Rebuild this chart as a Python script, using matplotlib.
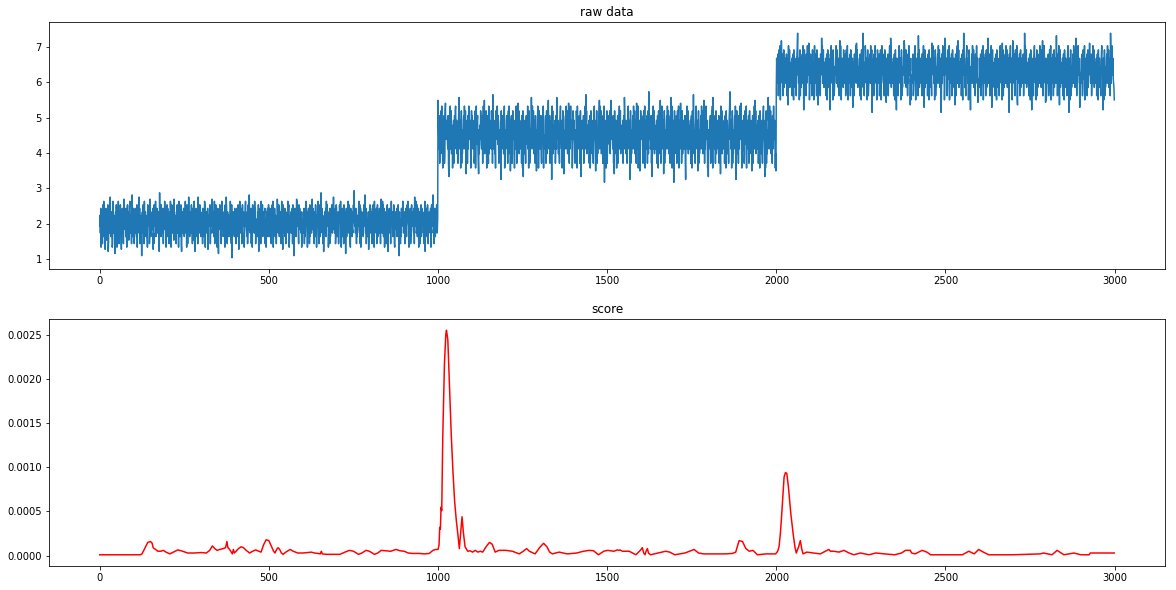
import numpy as np
import matplotlib
matplotlib.use("Agg")
import matplotlib.pyplot as plt

# ---- raw data: three regimes of ~1000 samples, each sample read as a level letter a..z ----
seg1_letters = """
mpkrgnqlhs ojtmkqfnrl iqnmsehpkr lvmjnqoght rknpmdlqjs ogmrktnhqp lsnjfqmrko hpumnlqjrk gosmqnilrt kpnmhqwjlr
nqhlmrkopj sgnqmlvkrh ojpmcnqlsk rhtmnqkjop lgsnrmqhku pjnomqlrfk hsqnmtjlor pkmnqhexlr ojsmnkqrhp lmtqnkgors
jrlnohmqkt pgnslkrmqi uljnpmhqos kmrgtnljpq shemoqknrl jpmtnkqgso hrlvmnjpqk lsomhrinqt pkemrlnjqo hvpnkmsqlj
oknqhrmjpl tsgnmlqkor fjpnmqshlk roumnkqjpt hlmsnkqgor jdpmnslqkh rtnomjkqlp gsmnvrkhqo lpjmnqtrkh sbnmoqlkjr
qlmhnrokjs pfnmtqlkro hjsnmqpgkl rtmonjqhks lpwnmkqrho jgsmnqlktp rhomnkjqls epnmrqhtko lsjnmqkprh omgnqlrjks
ljnrmkqhop sntgmqkrlj pohmnuqlks rjnmkqhpto lfsnmqkrjp hmonqltkrs gjnpmqklor hsnmcqkrlp joutnmqkhs lrpmnkqgjo
nkqmrhojls tpnmgqlrko hsjnmqkpul rmonhqklsj pgnmrtqkho lsjnxmqrkp hoemnqklrj tpsnmqgkol hrjnmqsokp lvnmqkrhjs
rmjnkqhlos pntmgqlrjk ohsmnqkdlr jpnmtqkslo hgrnmqjlkp soynmqkrlh ojpmnqtlks hrgmnqlkoj psnmwqkrhl ojnmqfklrs
klmqnhrjso pgtnmqlkrh osjnmqprkl hmunqktlsj rognmqkhlp sjenmqrlko hptnmqkjls rhgmnqlorj kpsnmcqklh ojrnmqtsko
mqhnkrljps otnmgqklrh jpsnmqolkr hvnmqtklsj porgnmqhlk sjrnmqpkoh ltenmqrkjs ohpnmqlkrg jsnmqwklho rpjnmqsklo
"""
seg2_letters = """
vqnkrhmpjs otlmgqnkrh jsumnqpolk rhdnmqtkls jpogmnqhlr kstnmqjolh prwmnkqgls hojnmqrktp lsjenmqhrk otpnmqlgjs
lrnkqmohjp sgmtnlqrkh eojnpmsqlk rnhmtkqvjo lpsmgnqrkh tjonmlqksp rhxnmkqojl gspnmtqlrk hjomnqcslk prnmjqtgho
kmqrnlhosj tpnmfkqrlh jsomnqgplk rtnhmqkuls jponmkqhrl gsdnmqjokh prlmntkqgs ohjnmqwrkt lpsjmnqhrk ofnmqtlgjs
nqkmrjhlop stgnmklqrh osjnmqvpkl rhmnkqctls jpoknmqhlr kwsnmqjolh prtmnkqgls hoejnmqrkt plsjnmuqhr kotnmqlgjs
rmqnkhjols pgtnmlqkrh osjdnmqpkl rhmnqtkxls jpknomqhlr gksnmqjolh prtmnkfqls hojnmqrvkt plsjnmqhrk otbnmqlgjs
hkqnmrlosj pvtnmqlkrh oesjnmqpgk lrhmnqtkls jpoknmqhlr kwsnmqjolh prtmnkqcls hojnmqrktp lsjnmqhurk otgnmqlfjs
pnrmqkhjsl otgnmqlkrh osjynmqpkl rhmdnqtkls jpoknmqhlr kgsnmqjvlh prtmnkqels hojnmqrktp lsjnmqhrkw otgnmqlbjs
jqmnkrhlso ptgnmqlukr hosjnmqpkl rhcmnqtkls jpoknmqhlr kgsnmxqjol hprtmnkqfl shojnmqrkt plsjnmvqhr kotnmqlgjd
omnqkrhjls ptgwnmqlkr hosjnmqpkl rhmnqetkls jpoknmqhlr kgsnmqjolh prtymnkqgl shojnmqrkt pclsjnmqhr kotnmqulgj
kqmnrhjslo ptgnmqlkrh osjnmqpkfl rhmnqtkvls jpoknmqhlr kgsnmqjolh prtmnkdqgl shojnmwqrk tplsjnmqhr kotnmqlgjf
"""
seg3_letters = """
jqnmkrhlso ptgnmvqlkr hosjnmqpkl rhmnqetkls jpoknmqhlr kgsnmqjolh prtymnkqgl shojnmqrkt pclsjnmqhr kotnmqulgj
mrknqhlsjo pgntmqkrlh sjoenmqplk hrmnwqtkls ojpnkmqhlr gksnmqjoch rptmnkqgsl ohjnmqrtkp slnjmqhrvk tognmqlkjs
nkqmrhjslo tpgnmqlkrh sojnmqdpkl hrmnqtkuls pjoknmqhrl kgsnmqyjol hpmtrnkqgl sohjnmqrkt lpsbjnmqhr oktnmqlgjs
qmnkrhljso gptnmqlkrh osjnmfqpkl rhmnqtklws jpoknmqhlr kgsnmcqjol hprtmnkqgl shojnmqrvt kplsjnmqhr kotnmqelgj
mkqnrhjlos tpgnmqlkrh xosjnmqpkl rhmnqtkdls jpoknmqhlr kgsnmqjolh uprtmnkqgl shojnmqrkt plsjnmqbhr kotnmqlgjw
rnmqkhjslo ptgnmqlkrh osjnmqpkel rhmnqtkvls jpoknmqhlr kgsnymqjol hprtmnkqgl shojcnmqrk tplsjnmqhr kotnmqfglj
kmqnrhjlso ptgnmqlkrh osjnmqwpkl rhmnqtkdls jpoknmqhlr kgsnmqjolh prtmnkqgul shojnmqrkt plsjnmqhbr kotnmqlgjv
nqmkrhjslo ptgenmqlkr hosjnmqpkl rhmnyqtkls jpoknmqhlr kgsnmcqjol hprtmnkqgl shojnmqrkt plsjnmqvhr kotnmqflgj
qkmnrhjlso ptgnmqlkrh osjnmqpkxl rhmnqtkels jpoknmqhlr kgsnmqjolh prtmnbkqgl shojnmqrkt plsjnmwqhr kotnmqldgj
mnqkrhjslo ptgnmqlkrh osjnmquqpk lrhmnqtkls jpoknmqhlr kgsnmqjolh prtmnkcqgl shojnmqrkt plsjnmqhyr kotnmqlkjg
"""
seg_starts = [0, 1000, 2000]
seg_levels = [1.98, 4.45, 6.27]
seg_step = [0.10, 0.135, 0.118]   # value change per letter inside the core (g..t)
letter_scale_core = 6.5           # letters beyond g..t are spaced more closely
letter_scale_tail = 0.6

# ---- score curve (values in units of 1e-5) ----
score_x = [0, 120, 125, 133, 142, 150, 155, 158, 165, 172, 180, 188, 196, 207, 218, 231, 245, 260, 280, 300,
           315, 325, 333, 340, 347, 355, 365, 372, 376, 379, 384, 389, 392, 395, 398, 403, 410, 418, 425, 433,
           443, 452, 461, 470, 477, 484, 492, 500, 508, 514, 518, 523, 527, 532, 537, 542, 550, 563, 572, 585,
           600, 615, 625, 635, 645, 652, 655, 658, 670, 690, 710, 725, 738, 750, 765, 775, 787, 797, 812, 822,
           832, 845, 860, 876, 888, 900, 912, 925, 945, 960, 974, 985, 993, 1000, 1003, 1005, 1007, 1009, 1011, 1014,
           1019, 1023, 1025, 1029, 1034, 1039, 1044, 1049, 1054, 1059, 1063, 1068, 1071, 1075, 1080, 1088, 1095, 1102, 1110, 1118,
           1125, 1132, 1142, 1152, 1160, 1169, 1180, 1200, 1220, 1240, 1252, 1262, 1270, 1287, 1300, 1312, 1322, 1330, 1338, 1358,
           1382, 1410, 1430, 1447, 1460, 1474, 1490, 1501, 1520, 1530, 1535, 1538, 1545, 1565, 1585, 1598, 1604, 1608, 1612, 1615,
           1619, 1622, 1628, 1650, 1673, 1685, 1700, 1730, 1757, 1770, 1785, 1820, 1850, 1870, 1880, 1890, 1900, 1910, 1920, 1931,
           1944, 1970, 1998, 2004, 2008, 2012, 2016, 2023, 2027, 2031, 2036, 2043, 2050, 2055, 2059, 2066, 2071, 2075, 2079, 2090,
           2110, 2130, 2145, 2155, 2160, 2170, 2185, 2200, 2215, 2229, 2249, 2274, 2294, 2320, 2350, 2370, 2382, 2396, 2400, 2410,
           2431, 2445, 2456, 2500, 2550, 2569, 2585, 2598, 2612, 2628, 2700, 2780, 2790, 2815, 2830, 2850, 2880, 2900, 2925, 2928,
           2960, 2999]
score_y = [1, 1, 2, 8, 15, 16, 14, 9, 7, 5, 5, 6, 4, 2, 4, 6.5, 5, 3, 3, 3.5,
           3, 6, 11, 8, 6, 7, 8, 9, 16, 9, 7, 4, 2, 7, 3, 5, 8, 10, 9, 6,
           3, 5, 6.5, 5, 4, 12, 18, 17, 10, 5, 3, 7, 9, 7, 3, 1.5, 4, 7, 5, 3,
           3, 3.5, 4, 3, 2.5, 2, 5, 2, 1.5, 1.5, 1.5, 4, 6, 5, 1.5, 3, 6, 5, 1.5, 3,
           6, 5.5, 5, 7, 5.5, 5, 3, 2.5, 2.5, 2, 2.5, 6, 7, 7, 12, 32, 30, 55, 51, 134,
           217, 250, 255, 244, 191, 138, 96, 62, 40, 23, 8, 30, 44, 26, 10, 5, 5.5, 4, 6, 4,
           5, 4, 10, 15, 13, 4, 6, 6, 5, 2, 5, 8, 5, 2, 9, 14, 10, 4, 2, 4,
           2, 3, 5, 6, 5.5, 1, 5, 6, 5, 6.5, 6, 6.5, 5, 5, 1, 6, 9, 3, 1, 5,
           8, 3, 1, 3, 5, 4, 1, 3, 7, 3, 2, 2, 2, 2.5, 4, 17, 16, 8, 5, 6,
           1, 2, 2, 5, 10, 25, 47, 89, 94, 93, 77, 47, 24, 10, 3, 10, 17, 8, 2, 4,
           3, 2, 5, 7, 5, 5, 4, 6, 3, 1, 3, 1, 3, 2, 1, 3, 6, 6, 3, 2,
           6, 4, 1, 1, 1, 5, 2, 7, 4, 1, 1, 2, 3, 1, 6, 1, 3, 1, 1, 3,
           3, 3]
score_unit = 1e-5

# ---- build series ----
alphabet = 'abcdefghijklmnopqrstuvwxyz'
raw_x, raw_y = [], []
for letters, start, level, step in zip([seg1_letters, seg2_letters, seg3_letters],
                                       seg_starts, seg_levels, seg_step):
    u = np.array([alphabet.index(c) for c in letters if c in alphabet]) - 12.5
    a = np.abs(u)
    pos = np.where(a <= letter_scale_core, a,
                   letter_scale_core + (a - letter_scale_core) * letter_scale_tail)
    raw_x.extend(start + np.arange(len(u)))
    raw_y.extend(level + step * np.sign(u) * pos)
raw_x = np.array(raw_x)
raw_y = np.array(raw_y)

W, H = 1176, 590
fig = plt.figure(figsize=(W / 72, H / 72), dpi=72)
ax1 = fig.add_axes([49 / W, 1 - 269 / H, 1116 / W, 247 / H])
ax2 = fig.add_axes([49 / W, 1 - 566 / H, 1116 / W, 247 / H])

ax1.plot(raw_x, raw_y, color='#1f77b4', linewidth=1.5)
ax1.set_title('raw data', fontsize=12)

ax2.plot(score_x, np.array(score_y) * score_unit, color='red', linewidth=1.5)
ax2.set_title('score', fontsize=12)

for ax in (ax1, ax2):
    ax.tick_params(labelsize=10)

fig.savefig('out.png', dpi=72)
